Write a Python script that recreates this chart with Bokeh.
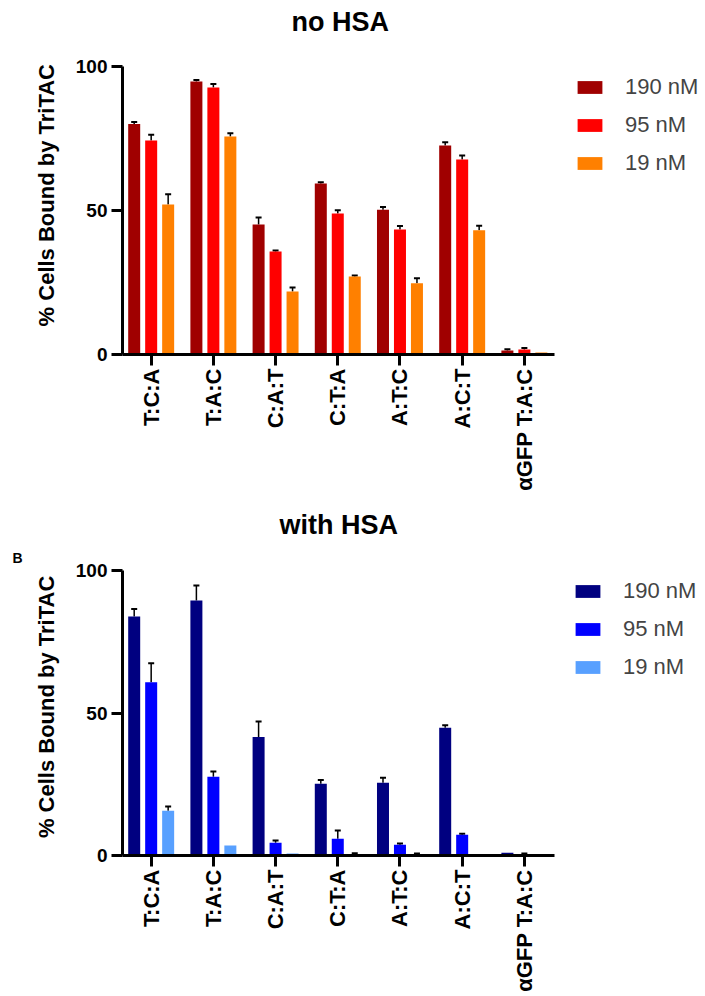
import math
from bokeh.plotting import figure
from bokeh.models import (ColumnDataSource, Range1d, FixedTicker, Whisker, TeeHead,
                          Legend, LegendItem, Title)
from bokeh.layouts import column
from bokeh.embed import file_html
from bokeh.resources import INLINE

# ---------------- data ----------------
categories = ["T:C:A", "T:A:C", "C:A:T", "C:T:A", "A:T:C", "A:C:T", "\u03b1GFP T:A:C"]
concentrations = ["190 nM", "95 nM", "19 nM"]

no_hsa_190 = [80.0, 94.8, 45.1, 59.4, 50.3, 72.6, 1.4]
no_hsa_190_err = [0.7, 0.5, 2.5, 0.4, 0.9, 1.1, 0.4]
no_hsa_95 = [74.3, 92.7, 35.8, 49.0, 43.4, 67.7, 1.7]
no_hsa_95_err = [2.0, 1.2, 0.3, 1.1, 1.2, 1.4, 0.6]
no_hsa_19 = [52.1, 75.7, 21.9, 27.1, 24.7, 43.1, 0.7]
no_hsa_19_err = [3.5, 1.1, 1.4, 0.3, 1.8, 1.6, 0.0]

hsa_190 = [83.9, 89.5, 41.6, 25.2, 25.5, 44.8, 1.0]
hsa_190_err = [2.6, 5.2, 5.4, 1.3, 1.8, 0.9, 0.0]
hsa_95 = [60.8, 27.6, 4.5, 5.9, 3.8, 7.3, 0.4]
hsa_95_err = [6.7, 1.9, 0.8, 2.9, 0.4, 0.3, 0.3]
hsa_19 = [15.7, 3.5, 0.7, 0.4, 0.4, 0.4, 0.3]
hsa_19_err = [1.5, 0.0, 0.0, 0.4, 0.3, 0.0, 0.0]

y_ticks = [0, 50, 100]
y_label = "% Cells Bound by TriTAC"

colors_no_hsa = ["#A00000", "#FF0000", "#FF8000"]
colors_hsa = ["#000080", "#0000FF", "#58A0FF"]

FONT = "Liberation Sans"
OFFSETS = [-0.273, 0.0, 0.273]
BAR_W = 0.193


def make_chart(title, series, errors, colors, height, top_border, frame_h,
               legend_loc, title_offset, title_standoff, label_pad,
               panel_letter=None, spacer=None):
    xs = list(range(len(categories)))
    p = figure(width=705, height=height, output_backend="svg", toolbar_location=None,
               x_range=Range1d(-0.461, 8.912), y_range=Range1d(0, 100),
               min_border_left=122, min_border_right=0, min_border_top=top_border,
               min_border_bottom=height - top_border - frame_h)
    p.outline_line_color = None
    p.xgrid.grid_line_color = None
    p.ygrid.grid_line_color = None
    p.background_fill_color = "white"
    p.border_fill_color = "white"

    items = []
    for vals, errs, col, off, lab in zip(series, errors, colors, OFFSETS, concentrations):
        bx = [x + off for x in xs]
        src = ColumnDataSource(dict(x=bx, top=vals))
        r = p.vbar(x="x", top="top", width=BAR_W, source=src, fill_color=col,
                   line_color=None)
        items.append(LegendItem(label=lab, renderers=[r]))
        wx = [b for b, e in zip(bx, errs) if e > 0]
        wl = [v for v, e in zip(vals, errs) if e > 0]
        wu = [v + e for v, e in zip(vals, errs) if e > 0]
        wsrc = ColumnDataSource(dict(base=wx, lower=wl, upper=wu))
        w = Whisker(source=wsrc, base="base", lower="lower", upper="upper",
                    dimension="height", line_color="black", line_width=1.5,
                    upper_head=TeeHead(size=6, line_width=2, line_color="black"),
                    lower_head=None)
        p.add_layout(w)

    # axes
    for ax in (p.xaxis[0], p.yaxis[0]):
        ax.axis_line_width = 3
        ax.axis_line_color = "black"
        ax.major_tick_line_width = 3
        ax.major_tick_line_color = "black"
        ax.major_tick_in = 0
        ax.major_tick_out = 11
        ax.minor_tick_line_color = None
        ax.major_label_text_font = FONT
        ax.major_label_text_font_style = "bold"
        ax.major_label_text_color = "black"

    p.xaxis.bounds = (-0.461, 6.49)
    p.xaxis.ticker = FixedTicker(ticks=xs)
    p.xaxis.major_label_overrides = {i: c for i, c in enumerate(categories)}
    p.xaxis.major_label_orientation = math.pi / 2
    p.xaxis.major_label_text_font_size = "22px"
    p.xaxis.major_label_standoff = 3

    p.yaxis.ticker = FixedTicker(ticks=y_ticks)
    p.yaxis.major_label_text_font_size = "19px"
    p.yaxis.major_label_standoff = 4
    p.yaxis.axis_label = "\u00a0" * label_pad + y_label
    p.yaxis.axis_label_text_font = FONT
    p.yaxis.axis_label_text_font_size = "22px"
    p.yaxis.axis_label_text_font_style = "bold"
    p.yaxis.axis_label_text_color = "black"
    p.yaxis.axis_label_standoff = 14

    legend = Legend(items=items, location=legend_loc, padding=0, margin=0,
                    border_line_color=None, background_fill_alpha=0,
                    glyph_width=31, glyph_height=16, label_height=26,
                    label_standoff=20, spacing=12,
                    label_text_font=FONT, label_text_font_size="22px")
    p.add_layout(legend)

    p.title.text = title
    p.title.align = "left"
    p.title.offset = title_offset
    p.title.standoff = title_standoff
    p.title.text_font = FONT
    p.title.text_font_size = "27px"
    p.title.text_font_style = "bold"
    p.title.text_color = "black"
    if panel_letter:
        p.add_layout(Title(text=panel_letter, align="left", offset=-110, standoff=10,
                           text_font=FONT, text_font_size="14px",
                           text_font_style="bold", text_color="black"), "above")
    if spacer:
        p.add_layout(Title(text="\u00a0", align="left", standoff=spacer,
                           text_font=FONT, text_font_size="1px",
                           text_color="white"), "above")
    return p


p1 = make_chart("no HSA", [no_hsa_190, no_hsa_95, no_hsa_19],
                [no_hsa_190_err, no_hsa_95_err, no_hsa_19_err], colors_no_hsa,
                height=496, top_border=66, frame_h=288, legend_loc=(452, 177.8),
                title_offset=169, title_standoff=4, label_pad=5, spacer=25)
p2 = make_chart("with HSA", [hsa_190, hsa_95, hsa_19],
                [hsa_190_err, hsa_95_err, hsa_19_err], colors_hsa,
                height=498, top_border=74, frame_h=286, legend_loc=(450, 175),
                title_offset=157, title_standoff=6, label_pad=2, panel_letter="B")

layout = column(p1, p2)
open("out.html", "w").write(file_html(layout, INLINE))
